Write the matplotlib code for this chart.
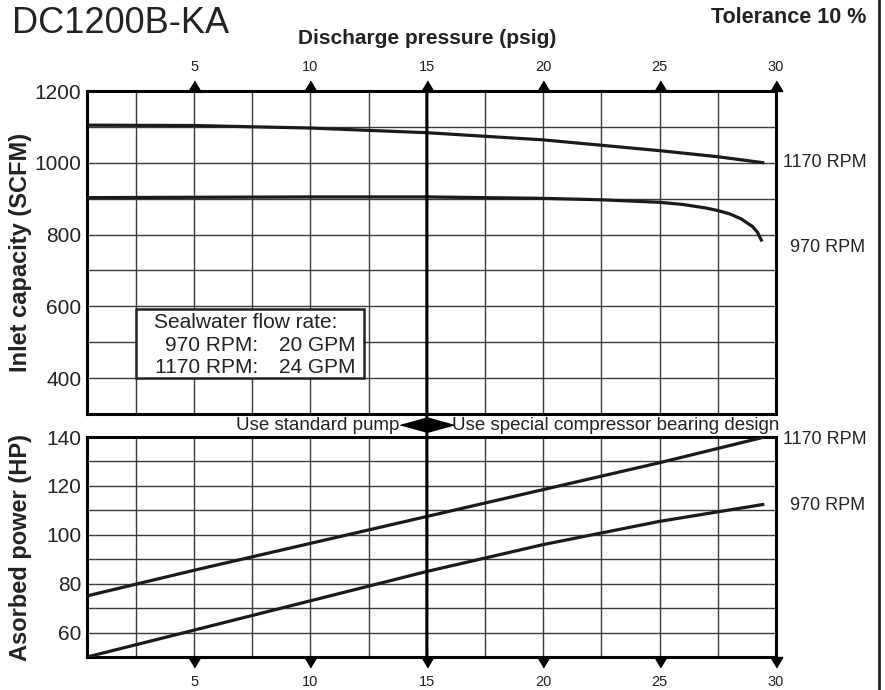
import matplotlib
matplotlib.use("Agg")
import matplotlib.pyplot as plt
from matplotlib.patches import ConnectionPatch, Rectangle
from matplotlib.lines import Line2D
import numpy as np

plt.rcParams['font.family'] = ['Liberation Sans', 'DejaVu Sans']

# Inlet capacity (SCFM) vs discharge pressure (psig)
cap_p_1170 = [0.4, 5, 10, 15, 20, 25, 27.5, 29.5]
cap_1170 = [1105, 1104, 1097, 1084, 1064, 1034, 1017, 1000]
cap_p_970 = [0.4, 5, 10, 15, 20, 22.5, 25, 26, 27, 27.5, 28, 28.5, 29, 29.2, 29.4]
cap_970 = [903, 904, 905, 905, 901, 897, 890, 884, 874, 867, 858, 844, 822, 807, 781]

# Absorbed power (HP) vs discharge pressure (psig)
pow_p = [0.4, 5, 10, 15, 20, 25, 29.5]
pow_1170 = [75, 85.5, 96.5, 107.5, 118.5, 129.5, 140]
pow_970 = [50, 61, 73, 85, 96, 105.5, 112.5]

x_ticks = [5, 10, 15, 20, 25, 30]
cap_ticks = [400, 600, 800, 1000, 1200]
pow_ticks = [60, 80, 100, 120, 140]

line_c = '#1a1a1a'
grid_c = '#3a3a3a'
text_c = '#222222'

fig = plt.figure(figsize=(8.85, 6.9), dpi=100)
ax_top = fig.add_axes([0.0983, 0.4, 0.7785, 0.468])
ax_bot = fig.add_axes([0.0983, 0.0478, 0.7785, 0.3188])
ax_band = fig.add_axes([0.0983, 0.3667, 0.7785, 0.0333])
ax_band.set_xlim(0.4, 30)
ax_band.set_ylim(0, 1)
ax_band.axis('off')

for ax, ticks, minor, ylim in [(ax_top, cap_ticks, 100, (300, 1200)),
                               (ax_bot, pow_ticks, 10, (50, 140))]:
    ax.set_xlim(0.4, 30)
    ax.set_ylim(*ylim)
    ax.set_xticks(x_ticks)
    ax.set_xticks(np.arange(2.5, 30, 2.5), minor=True)
    ax.set_yticks(ticks)
    ax.set_yticks(np.arange(ylim[0] + minor, ylim[1], minor), minor=True)
    ax.grid(True, which='both', color=grid_c, linewidth=1.0)
    ax.set_axisbelow(True)
    for s in ax.spines.values():
        s.set_linewidth(2.2)
        s.set_color('black')
    ax.tick_params(which='both', length=0)
    ax.tick_params(axis='y', labelsize=15, pad=4, colors=text_c)

ax_top.xaxis.tick_top()
ax_top.tick_params(axis='x', labelsize=10.5, pad=12, colors=text_c)
ax_bot.tick_params(axis='x', labelsize=10.5, pad=13, colors=text_c)

# tick arrows
up_tri = [(-0.6, 0), (0.6, 0), (0, 1)]
down_tri = [(-0.6, 0), (0.6, 0), (0, -1)]
ax_top.plot(x_ticks, [1200] * len(x_ticks), linestyle='none', marker=up_tri,
            markersize=15, color='black', clip_on=False, zorder=5)
ax_bot.plot(x_ticks, [50] * len(x_ticks), linestyle='none', marker=down_tri,
            markersize=15, color='black', clip_on=False, zorder=5)

# curves
ax_top.plot(cap_p_1170, cap_1170, color=line_c, lw=2.3, solid_capstyle='butt', zorder=4)
ax_top.plot(cap_p_970, cap_970, color=line_c, lw=2.3, solid_capstyle='butt', zorder=4)
ax_bot.plot(pow_p, pow_1170, color=line_c, lw=2.3, solid_capstyle='butt', zorder=4)
ax_bot.plot(pow_p, pow_970, color=line_c, lw=2.3, solid_capstyle='butt', zorder=4)

# rpm labels at right
ax_top.text(30.3, 1000, '1170 RPM', fontsize=13, va='center', ha='left', color=text_c)
ax_top.text(30.6, 765, '970 RPM', fontsize=13, va='center', ha='left', color=text_c)
ax_bot.text(30.3, 139, '1170 RPM', fontsize=13, va='center', ha='left', color=text_c)
ax_bot.text(30.6, 112, '970 RPM', fontsize=13, va='center', ha='left', color=text_c)

# divider at 15 psig
con = ConnectionPatch(xyA=(15, 1200), coordsA=ax_top.transData,
                      xyB=(15, 50), coordsB=ax_bot.transData,
                      color='black', linewidth=2.2, zorder=6)
fig.add_artist(con)

# band text and double arrow
left_tri = [(0, -1), (0, 1), (-3.6, 0)]
right_tri = [(0, -1), (0, 1), (3.6, 0)]
ax_band.plot([15], [0.5], marker=left_tri, markersize=39, color='black', linestyle='none')
ax_band.plot([15], [0.5], marker=right_tri, markersize=39, color='black', linestyle='none')
ax_band.annotate('Use standard pump', xy=(15, 0.5), xytext=(-19.5, 0),
                 textcoords='offset points', ha='right', va='center', fontsize=13.5,
                 color=text_c)
ax_band.annotate('Use special compressor bearing design', xy=(15, 0.5), xytext=(18, 0),
                 textcoords='offset points', ha='left', va='center', fontsize=13.5,
                 color=text_c)

# sealwater box
ax_top.add_patch(Rectangle((2.5, 400), 9.8, 193, facecolor='white', edgecolor=text_c,
                           linewidth=1.8, zorder=3))
ax_top.text(3.3, 555, 'Sealwater flow rate:', fontsize=15, va='center', ha='left',
            zorder=4, color=text_c)
ax_top.text(7.75, 491, '970 RPM:', fontsize=15, va='center', ha='right', zorder=4, color=text_c)
ax_top.text(7.75, 430, '1170 RPM:', fontsize=15, va='center', ha='right', zorder=4, color=text_c)
ax_top.text(11.95, 491, '20 GPM', fontsize=15, va='center', ha='right', zorder=4, color=text_c)
ax_top.text(11.95, 430, '24 GPM', fontsize=15, va='center', ha='right', zorder=4, color=text_c)

# axis labels
ax_top.set_ylabel('Inlet capacity (SCFM)', fontsize=17, fontweight='bold', color=text_c)
ax_top.yaxis.set_label_coords(-0.08, 0.5)
ax_bot.set_ylabel('Asorbed power (HP)', fontsize=17, fontweight='bold', color=text_c)
ax_bot.yaxis.set_label_coords(-0.08, 0.5)
ax_top.text(15, 1.164, 'Discharge pressure (psig)', transform=ax_top.get_xaxis_transform(),
            ha='center', va='center', fontsize=15, fontweight='bold', color=text_c)

fig.text(0.0136, 0.966, 'DC1200B-KA', fontsize=26, ha='left', va='center', color=text_c)
fig.text(0.979, 0.974, 'Tolerance 10 %', fontsize=15.5, fontweight='bold', ha='right',
         va='center', color=text_c)
fig.add_artist(Line2D([0.9935, 0.9935], [0, 1], color=text_c, linewidth=2.0))

fig.savefig('out.png', dpi=100)
